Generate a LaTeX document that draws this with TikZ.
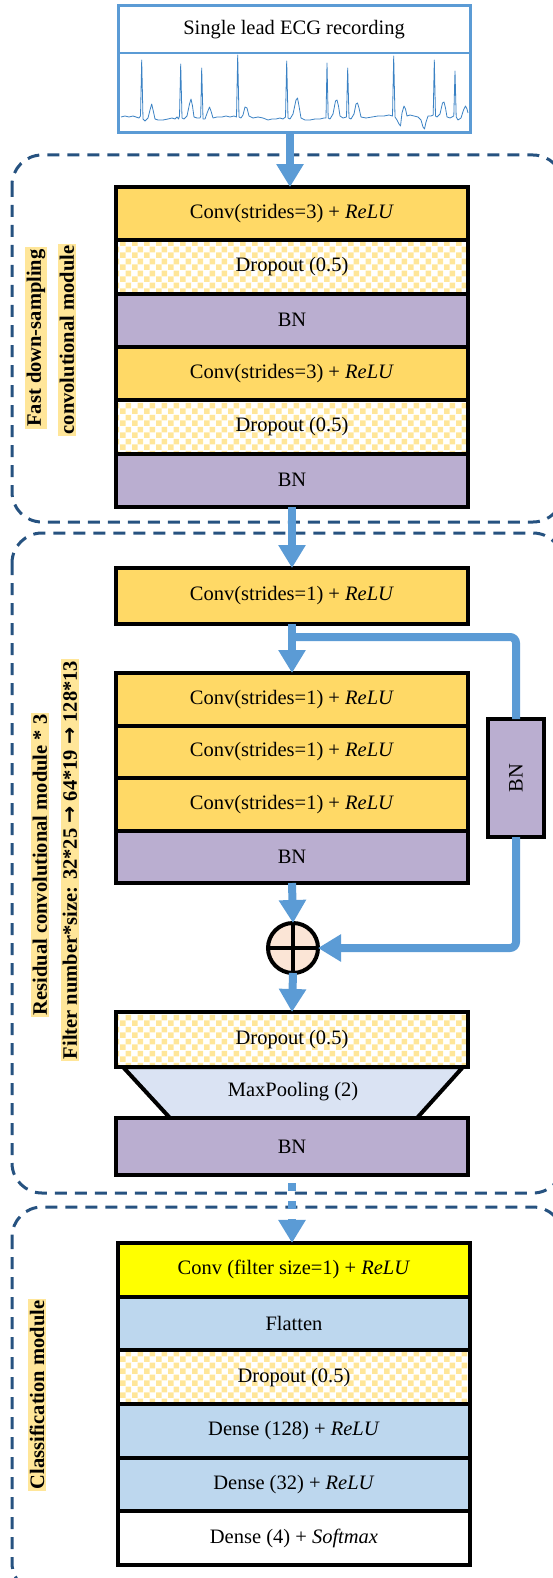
\documentclass[tikz,border=0pt]{standalone}
\usepackage{graphicx}
\usepackage{fontspec}
\setmainfont{Liberation Serif}
\newfontfamily\arrowfont{DejaVu Sans}
\usetikzlibrary{arrows.meta,patterns.meta,calc}

\definecolor{convc}{HTML}{FFD966}
\definecolor{bnc}{RGB}{186,174,208}
\definecolor{clsc}{HTML}{BDD7EE}
\definecolor{poolc}{HTML}{DAE3F3}
\definecolor{yelc}{HTML}{FFFF00}
\definecolor{chkc}{HTML}{FFE699}
\definecolor{hlc}{HTML}{FFE699}
\definecolor{arrc}{HTML}{5B9BD5}
\definecolor{dashc}{RGB}{38,82,128}
\definecolor{plusc}{HTML}{FBE5D6}
\definecolor{ecgc}{HTML}{5B9BD5}
\definecolor{ecgline}{HTML}{3B82C4}

\newcommand{\bigarr}{{\arrowfont\bfseries →}}

\tikzdeclarepattern{
  name=chk,
  type=uncolored,
  bounding box={(0pt,0pt) and (12pt,12pt)},
  tile size={(12pt,12pt)},
  code={\fill (0pt,0pt) rectangle (6pt,6pt); \fill (6pt,6pt) rectangle (12pt,12pt);}
}

\begin{document}
\begin{tikzpicture}[x=1pt,y=-1pt,
  txt/.style={font=\fontsize{20.5}{24}\selectfont},
  layer/.style={txt, draw=black, line width=4pt, minimum width=352pt, inner sep=0pt, outer sep=0pt},
  convbox/.style={layer, fill=convc},
  bnbox/.style={layer, fill=bnc},
  dropbox/.style={layer, fill=white, pattern=chk, pattern color=chkc},
  clsbox/.style={layer, fill=clsc},
  dbox/.style={draw=dashc, line width=3pt, dash pattern=on 12pt off 8pt, rounded corners=30pt},
  side/.style={rotate=90, fill=hlc, inner xsep=2pt, inner ysep=1.5pt, font=\bfseries\fontsize{20.5}{24}\selectfont},
  arr/.style={draw=arrc, line width=8pt, -{Triangle[width=26pt,length=23pt]}},
  conn/.style={draw=arrc, line width=8pt}
]
\useasboundingbox (0,0) rectangle (553,1578);

% dashed module frames
\draw[dbox] (12,155) rectangle (563,522);
\draw[dbox] (12,533) rectangle (563,1193);
\draw[dbox] (12,1207) rectangle (563,1593);

% ECG recording
\node[draw=ecgc, line width=3pt, minimum width=352pt, minimum height=127pt, inner sep=0pt, outer sep=0pt, fill=white] (ecg) at (294,69.5) {};
\draw[draw=ecgc, line width=2pt] (ecg.west |- 0,53) -- (ecg.east |- 0,53);
\node[txt] (ecgtitle) at (294,30) {Single lead ECG recording};
\draw[ecgline, line width=0.8pt, line join=round]
 (121,117) -- (125,116) -- (129,117) -- (133,116) -- (136,117) -- (139,118) -- (140.5,116) -- (141.7,60) -- (143,119) -- (145,121) -- (148,118) -- (150,110) -- (151.7,104) -- (153.5,112) -- (155,119) -- (158,120) -- (163,120) -- (168,119) -- (172,118) -- (175,119) -- (177,117) -- (178.5,119) -- (179.5,116) -- (180.7,64) -- (182,118) -- (184,119) -- (187,116) -- (189.5,104) -- (191,99) -- (192.5,106) -- (194,117) -- (197,118) -- (200,118) -- (200.7,116) -- (201.7,68) -- (203,119) -- (205,119) -- (207.5,112) -- (209.5,107) -- (211,111) -- (213,118) -- (217,117) -- (222,117) -- (226,116) -- (230,117) -- (234,116) -- (236.5,117) -- (237.7,55) -- (239,117) -- (241,118) -- (243,115) -- (245,107) -- (247,108) -- (249,116) -- (253,118) -- (258,117) -- (263,118) -- (268,120) -- (272,119) -- (276,119) -- (280,118) -- (283,119) -- (285.5,117) -- (286.7,61) -- (288,118) -- (290,119) -- (293,114) -- (296,100) -- (297.5,98) -- (299,106) -- (301,118) -- (305,120) -- (310,120) -- (315,119) -- (320,119) -- (324,118) -- (326,118) -- (327,63) -- (328.2,118) -- (330,119) -- (333,114) -- (335.5,101) -- (337,100) -- (338.5,106) -- (340,116) -- (343,118) -- (346.5,117) -- (347.7,68) -- (349,118) -- (351,119) -- (354,114) -- (356,104) -- (357.5,103) -- (359,108) -- (361,117) -- (366,118) -- (372,117) -- (378,116) -- (384,116) -- (389,115) -- (392.5,116) -- (393.7,56) -- (395,117) -- (397,120) -- (399,124) -- (400.5,126) -- (402,113) -- (404,106) -- (405.5,109) -- (407,116) -- (410,115) -- (414,116) -- (418,117) -- (421,120) -- (423,127) -- (424.5,129) -- (426,122) -- (428,116) -- (431,116) -- (433.2,115) -- (434.3,60) -- (435.5,116) -- (437,117) -- (440,114) -- (442.5,103) -- (444,102) -- (445.5,108) -- (447,117) -- (450,118) -- (453.8,116) -- (455,71) -- (456.2,117) -- (458,120) -- (461,118) -- (463.5,110) -- (465.5,106) -- (467,109) -- (468,113);

% Fast down-sampling module
\node[convbox, minimum height=53.3pt] (a1) at (292,213.7) {Conv(strides=3) + \textit{ReLU}};
\node[dropbox, minimum height=53.3pt] (a2) at (292,267) {Dropout (0.5)};
\node[bnbox, minimum height=53.3pt] (a3) at (292,320.3) {BN};
\node[convbox, minimum height=53.3pt] (a4) at (292,373.7) {Conv(strides=3) + \textit{ReLU}};
\node[dropbox, minimum height=53.3pt] (a5) at (292,427) {Dropout (0.5)};
\node[bnbox, minimum height=53.3pt] (a6) at (292,480.3) {BN};
\node[side] (lab1) at (36,338) {Fast down-sampling};
\node[side] (lab2) at (67,340) {convolutional module};

% Residual module
\node[convbox, minimum height=56pt] (r0) at (292,596) {Conv(strides=1) + \textit{ReLU}};
\node[convbox, minimum height=52.5pt] (r1) at (292,699.25) {Conv(strides=1) + \textit{ReLU}};
\node[convbox, minimum height=52.5pt] (r2) at (292,751.75) {Conv(strides=1) + \textit{ReLU}};
\node[convbox, minimum height=52.5pt] (r3) at (292,804.25) {Conv(strides=1) + \textit{ReLU}};
\node[bnbox, minimum height=52.5pt] (r4) at (292,856.75) {BN};
\node[bnbox, minimum width=56pt, minimum height=118pt] (bnside) at (516,778) {\rotatebox{90}{BN}};
\node[circle, draw=black, line width=4pt, fill=plusc, minimum size=50pt, inner sep=0pt, outer sep=0pt] (plus) at (293,948) {};
\draw[line width=4pt] (plus.north) -- (plus.south) (plus.west) -- (plus.east);

\path[draw=black, line width=4pt, fill=poolc, line join=miter] (123,1067) -- (463,1067) -- (417,1118) -- (170,1118) -- cycle;
\node[dropbox, minimum height=55pt] (d3) at (292,1039.5) {Dropout (0.5)};
\node[txt] (pool) at (293,1092) {MaxPooling (2)};
\node[bnbox, minimum height=57pt] (b3) at (292,1146.5) {BN};
\node[side] (lab3) at (40,865) {Residual convolutional module * 3};
\node[side] (lab4) at (70,860) {Filter number*size: 32*25 \bigarr{} 64*19 \bigarr{} 128*13};

% Classification module
\node[layer, fill=yelc, minimum height=53.7pt] (k1) at (294,1269.8) {Conv (filter size=1) + \textit{ReLU}};
\node[clsbox, minimum height=53.7pt] (k2) at (294,1323.5) {Flatten};
\node[dropbox, minimum height=53.7pt] (k3) at (294,1377.2) {Dropout (0.5)};
\node[clsbox, minimum height=53.7pt] (k4) at (294,1430.8) {Dense (128) + \textit{ReLU}};
\node[clsbox, minimum height=53.7pt] (k5) at (294,1484.5) {Dense (32) + \textit{ReLU}};
\node[layer, fill=white, minimum height=53.7pt] (k6) at (294,1538.2) {Dense (4) + \textit{Softmax}};
\node[side] (lab5) at (37,1395) {Classification module};

% connectors
\draw[arr] (ecg.south -| 290,0) -- (a1.north -| 290,0);
\draw[arr] (a6.south) -- (r0.north);
\coordinate (br) at ($(r0.south)+(0,13)$);
\draw[conn, rounded corners=6pt] (br) -| (bnside.north);
\draw[arr] (r0.south) -- (r1.north);
\draw[arr, rounded corners=6pt] (bnside.south) |- (plus.east);
\draw[arr] (r4.south) -- (plus.north);
\draw[arr] (plus.south) -- (d3.north);
\draw[arr, dash pattern=on 8pt off 10pt, dash phase=10pt] (b3.south) -- (k1.north -| b3.south);
\end{tikzpicture}
\end{document}
